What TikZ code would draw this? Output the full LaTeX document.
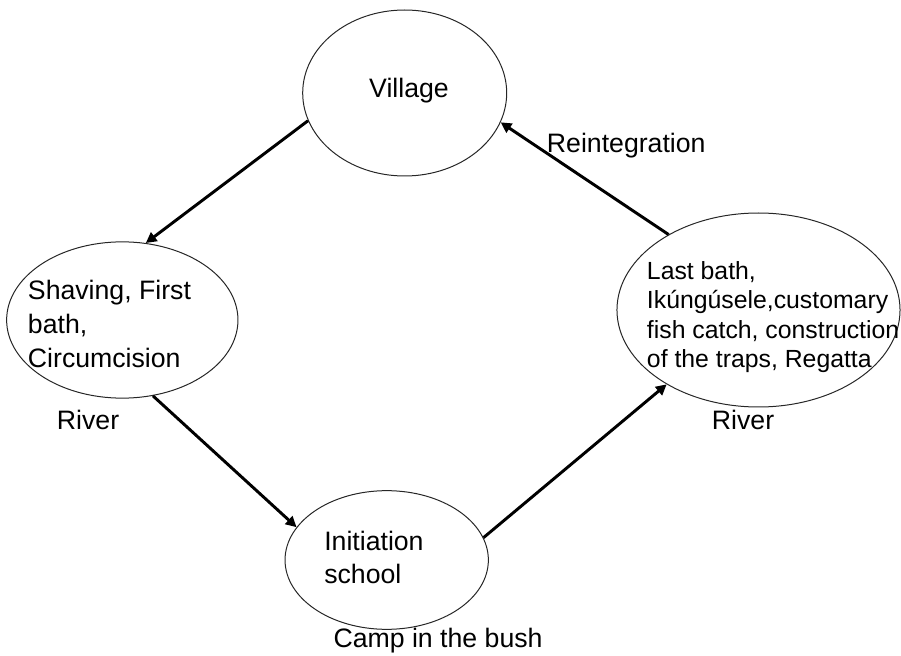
\documentclass[tikz,border=0pt]{standalone}
\usepackage{fontspec}
\setmainfont{Liberation Sans}
\usetikzlibrary{shapes.geometric,arrows.meta}
\begin{document}
\begin{tikzpicture}[x=0.75pt,y=-0.75pt,
  stage/.style={ellipse,draw=black!85,line width=0.75pt,inner sep=0pt},
  txt/.style={anchor=base west,inner sep=0pt,font=\fontsize{20}{24}\selectfont},
  txts/.style={anchor=base west,inner sep=0pt,font=\fontsize{18.6}{22}\selectfont},
  flow/.style={line width=2.2pt,-{Triangle[length=8pt,width=8pt]}}]
\useasboundingbox (0,0) rectangle (901,656);
% ellipses
\node[stage,minimum width=153pt,minimum height=124.5pt] (village) at (404.7,93) {};
\node[stage,minimum width=173.5pt,minimum height=117.2pt] (left) at (122.3,320) {};
\node[stage,minimum width=212.3pt,minimum height=145.5pt] (right) at (758.5,310) {};
\node[stage,minimum width=152.5pt,minimum height=104pt] (init) at (386.7,560) {};
% texts
\node[txt,anchor=base] (tvillage) at (409,97.3) {Village};
\node[txt] (treint) at (546.7,152.7) {Reintegration};
\node[txt] (tl1) at (27.7,300) {Shaving, First};
\node[txt] (tl2) at (27.7,334) {bath,};
\node[txt] (tl3) at (27.7,368) {Circumcision};
\node[txt] (triverl) at (56.7,430) {River};
\node[txts] (tr1) at (646.7,280) {Last bath,};
\node[txts] (tr2) at (646.7,309) {Ikúngúsele,customary};
\node[txts] (tr3) at (646.7,338.5) {fish catch, construction};
\node[txts] (tr4) at (646.7,368) {of the traps, Regatta};
\node[txt] (triverr) at (711.7,430) {River};
\node[txt] (ti1) at (324,550) {Initiation};
\node[txt] (ti2) at (324,583) {school};
\node[txt] (tcamp) at (333.3,647.7) {Camp in the bush};
% connectors
\draw[flow] (village.196) -- (left.73);
\draw[flow] (left.292.5) -- (init.160);
\draw[flow] (init.13) -- (right.219.6);
\draw[flow] (right.140.8) -- (village.343);
\end{tikzpicture}
\end{document}
